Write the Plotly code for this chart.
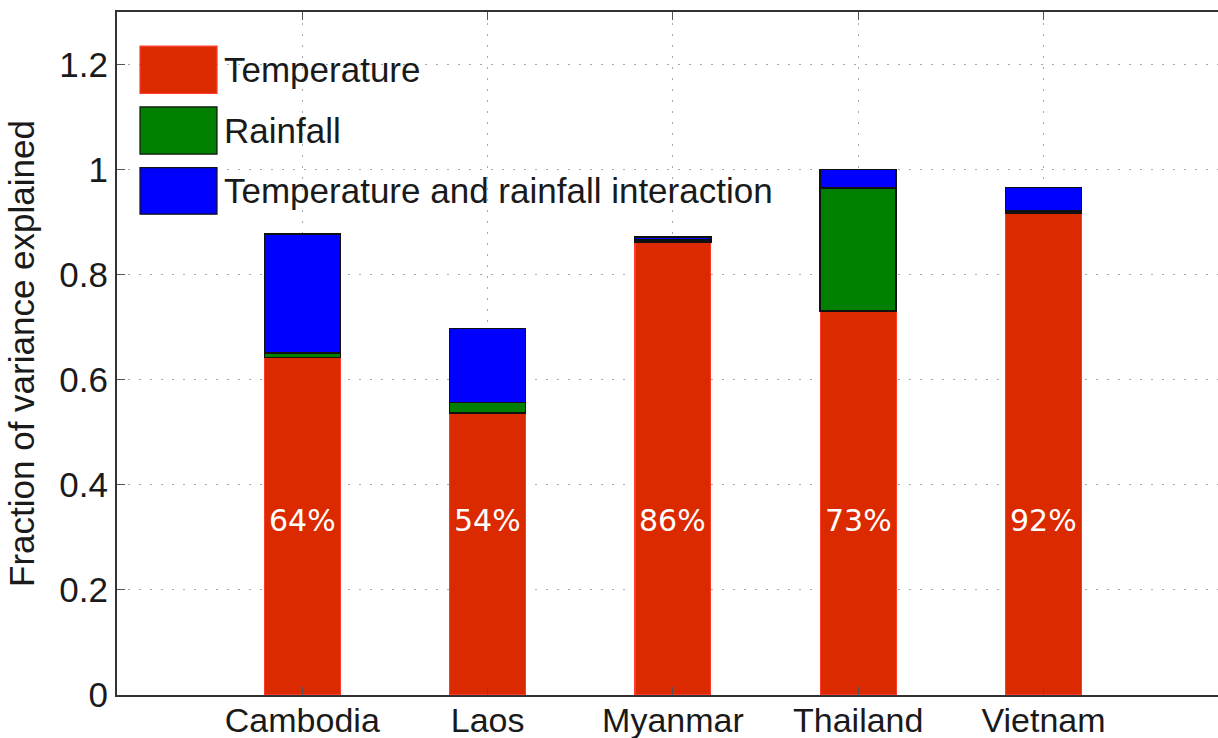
import plotly.graph_objects as go

countries = ["Cambodia", "Laos", "Myanmar", "Thailand", "Vietnam"]
temperature = [0.642, 0.537, 0.862, 0.731, 0.917]
rainfall = [0.009, 0.020, 0.004, 0.234, 0.004]
interaction = [0.226, 0.141, 0.006, 0.035, 0.045]
series_names = ["Temperature", "Rainfall", "Temperature and rainfall interaction"]
y_ticks = [0, 0.2, 0.4, 0.6, 0.8, 1.0, 1.2]
y_tick_text = ["0", "0.2", "0.4", "0.6", "0.8", "1", "1.2"]

RED = "#dc2a00"
GREEN = "#007f00"
BLUE = "#0000ff"
FONT = "Liberation Sans, Arial, sans-serif"
FS = 35

fig = go.Figure()
fig.add_trace(go.Bar(x=countries, y=temperature, name=series_names[0], width=0.41,
                     marker=dict(color=RED, line=dict(color="#ff3a2a", width=1.2))))
fig.add_trace(go.Bar(x=countries, y=rainfall, name=series_names[1], width=0.41,
                     marker=dict(color=GREEN, line=dict(color="#111111", width=1.5))))
fig.add_trace(go.Bar(x=countries, y=interaction, name=series_names[2], width=0.41,
                     marker=dict(color=BLUE, line=dict(color="#111111", width=1.5))))

# percentage labels
for c, t in zip(countries, temperature):
    fig.add_annotation(x=c, y=0.333, xref="x", yref="y", text=f"{round(t*100)}%",
                       showarrow=False, font=dict(family="DejaVu Sans", size=30, color="white"))

W = 1218
PW = W - 117
def px(x):
    return (x - 117) / PW

# white legend box covering gridlines
fig.add_shape(type="rect", xref="paper", yref="paper", x0=px(119), x1=px(792), y0=0.672, y1=0.997,
              fillcolor="white", line=dict(width=0), layer="between")

# custom legend
sw = [(0.950, 0.881, RED, "#ff3a2a"), (0.861, 0.792, GREEN, "#111111"), (0.772, 0.704, BLUE, "#111111")]
for (y1, y0, fc, lc), name in zip(sw, series_names):
    fig.add_shape(type="rect", xref="paper", yref="paper", x0=px(140), x1=px(217), y0=y0, y1=y1,
                  fillcolor=fc, line=dict(color=lc, width=1.2), layer="above")
    fig.add_annotation(xref="paper", yref="paper", x=px(222), y=(y0 + y1) / 2, text=name,
                       showarrow=False, xanchor="left", yanchor="middle",
                       font=dict(family=FONT, size=FS, color="#1a1a1a"))

fig.update_layout(
    barmode="stack",
    width=W, height=738,
    margin=dict(l=117, r=0, t=12, b=43, autoexpand=False),
    plot_bgcolor="white", paper_bgcolor="white",
    showlegend=False,
    font=dict(family=FONT, size=FS, color="#1a1a1a"),
)
GRID = dict(showgrid=True, gridcolor="#a8a8a8", griddash="2px,9px", gridwidth=1.2)
fig.update_xaxes(range=[-1, -1 + PW / 185.3], tickmode="array", tickvals=countries,
                 showline=True, linecolor="#333333", linewidth=2,
                 mirror="ticks", ticks="inside", ticklen=8, tickcolor="#555555",
                 automargin=False, ticklabelstandoff=-6, **GRID,
                 tickfont=dict(family=FONT, size=34, color="#1a1a1a"))
fig.update_yaxes(range=[0, 1.3], tickvals=y_ticks, ticktext=y_tick_text,
                 showline=True, linecolor="#333333", linewidth=2,
                 ticks="inside", ticklen=8, tickcolor="#555555",
                 automargin=False, zeroline=False, **GRID,
                 title=dict(text="Fraction of variance explained", standoff=14,
                            font=dict(family=FONT, size=FS, color="#1a1a1a")),
                 tickfont=dict(family=FONT, size=FS, color="#1a1a1a"))

fig.write_html("out.html", config={"displayModeBar": False},
               post_script="document.body.style.margin='0';document.body.style.overflow='hidden';")
